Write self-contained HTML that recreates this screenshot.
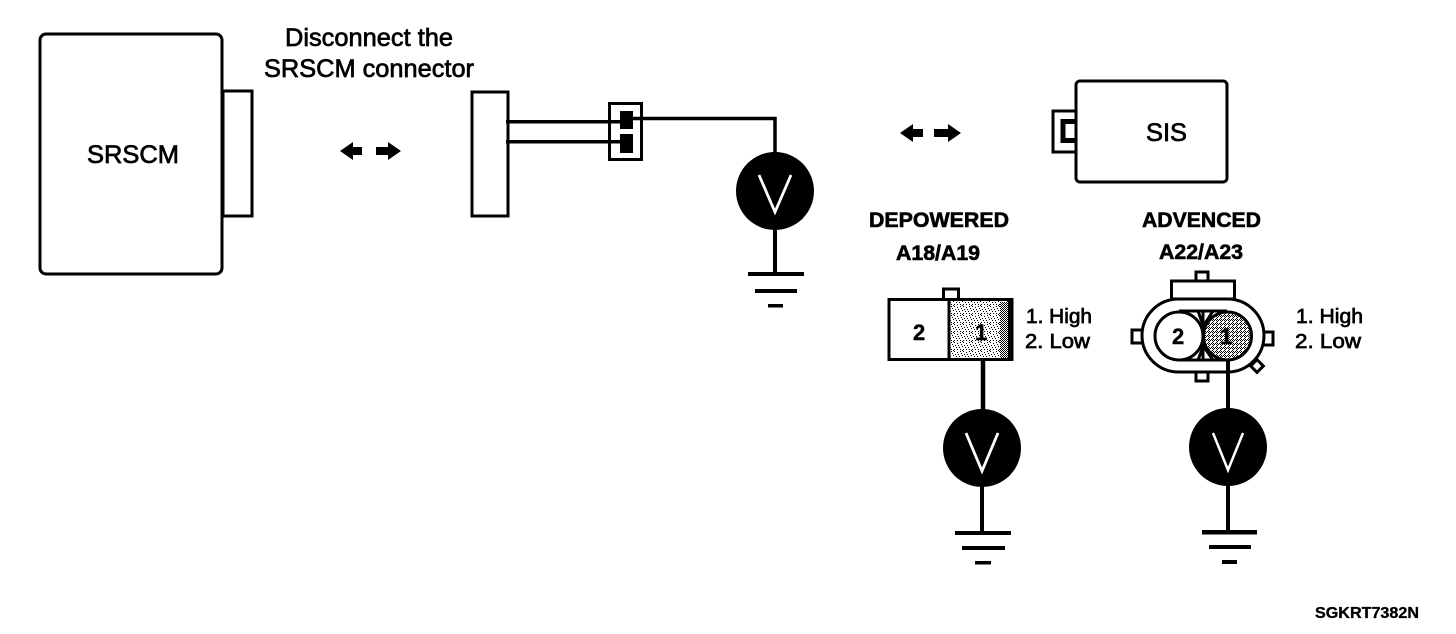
<!DOCTYPE html>
<html>
<head>
<meta charset="utf-8">
<style>
html,body{margin:0;padding:0;background:#fff;width:1456px;height:634px;overflow:hidden}
svg{display:block}
text{font-family:"Liberation Sans",sans-serif;fill:#000}
.n{font-size:25px;stroke:#000;stroke-width:.7px}
.h{font-size:21px;font-weight:bold;stroke:#000;stroke-width:.6px}
.l{font-size:20px;stroke:#000;stroke-width:.7px}
.d{font-size:22px;font-weight:bold;stroke:#000;stroke-width:.4px}
</style>
</head>
<body>
<svg width="1456" height="634" viewBox="0 0 1456 634" xmlns="http://www.w3.org/2000/svg">
<defs>
<pattern id="st" width="9" height="9" patternUnits="userSpaceOnUse">
<rect width="9" height="9" fill="#fff"/>
<path fill="#000" d="M0 0h1v1H0zM3 1h1v1H3zM6 0h1v1H6zM1 3h1v1H1zM4 3h1v1H4zM7 2h1v1H7zM2 5h1v1H2zM5 5h1v1H5zM8 4h1v1H8zM0 7h1v1H0zM3 7h1v1H3zM6 7h1v1H6zM8 8h1v1H8z"/>
</pattern>
<pattern id="dn" width="2" height="2" patternUnits="userSpaceOnUse">
<rect width="2" height="2" fill="#fff"/>
<rect width="1" height="1" fill="#000"/>
<rect x="1" y="1" width="1" height="1" fill="#000"/>
</pattern>
<pattern id="st2" width="4" height="4" patternUnits="userSpaceOnUse">
<rect width="4" height="4" fill="#fff"/>
<path fill="#000" d="M0 0h1v1H0zM2 0h1v1H2zM1 1h1v1H1zM0 2h1v1H0zM3 3h1v1H3zM1 3h1v1H1z"/>
</pattern>
</defs>

<g fill="none" stroke="#000" stroke-width="3">
<!-- SRSCM -->
<rect x="223" y="91" width="29" height="125" fill="#fff"/>
<rect x="40" y="34" width="182" height="240" rx="6" fill="#fff"/>
<!-- center connector -->
<rect x="472" y="92" width="36" height="124" fill="#fff"/>
<rect x="609.500" y="103.500" width="32" height="56" fill="#fff"/>
<!-- SIS -->
<rect x="1053" y="111" width="24" height="41" fill="#fff"/>
<rect x="1076" y="81" width="151" height="101" rx="4" fill="#fff"/>
</g>
<path d="M1075 121.500H1063V140.500H1075" fill="none" stroke="#000" stroke-width="5"/>

<!-- center wiring -->
<rect x="620" y="111" width="13" height="18" fill="#000"/>
<rect x="620" y="134" width="13" height="19" fill="#000"/>
<rect x="506" y="120" width="116" height="3.500" fill="#000"/>
<rect x="506" y="140" width="116" height="3.500" fill="#000"/>
<path d="M630 118.500H775V160" fill="none" stroke="#000" stroke-width="3.500"/>

<!-- Left meter 1 -->
<line x1="775" y1="225" x2="775" y2="274" stroke="#000" stroke-width="4"/>
<circle cx="775" cy="191" r="39" fill="#000"/>
<path d="M759 175L775 212L791 175" fill="none" stroke="#fff" stroke-width="2.800"/>
<rect x="748" y="272" width="56" height="4" fill="#000"/>
<rect x="755" y="289" width="42" height="4" fill="#000"/>
<rect x="768" y="304" width="15" height="3.500" fill="#000"/>

<!-- Depowered connector -->
<rect x="943.500" y="289" width="15" height="11" fill="#fff" stroke="#000" stroke-width="3"/>
<rect x="889" y="299.500" width="60" height="60" fill="#fff" stroke="#000" stroke-width="3"/>
<rect x="949" y="299.500" width="63" height="60" fill="url(#st)" stroke="#000" stroke-width="3"/>
<rect x="1000" y="302" width="8" height="56" fill="url(#dn)"/>
<rect x="1008" y="300" width="4.500" height="59" fill="#000"/>
<line x1="983" y1="360" x2="983" y2="412" stroke="#000" stroke-width="4.500"/>
<line x1="982" y1="480" x2="982" y2="533" stroke="#000" stroke-width="4"/>
<circle cx="982" cy="448" r="39" fill="#000"/>
<path d="M966 433L982 471L998 433" fill="none" stroke="#fff" stroke-width="2.800"/>
<rect x="955" y="531" width="56" height="4" fill="#000"/>
<rect x="962" y="546" width="43" height="4" fill="#000"/>
<rect x="975" y="561" width="16" height="3.500" fill="#000"/>

<!-- Advanced connector -->
<g stroke="#000" stroke-width="3" fill="#fff">
<rect x="1196" y="272" width="12" height="10"/>
<rect x="1171.500" y="281" width="63" height="18"/>
<rect x="1132" y="330" width="11" height="13"/>
<rect x="1263" y="332" width="10" height="13"/>
<rect x="1196" y="370" width="12" height="11"/>
<rect x="1252.500" y="361.500" width="9" height="9" transform="rotate(45 1257 366)"/>
<rect x="1142" y="299" width="122" height="73" rx="36.500"/>
<path d="M1179 311H1227M1179 360H1227M1203 311V360M1198 311L1203 325M1213 311L1204 325M1198 360L1203 347M1213 360L1204 347" fill="none"/>
<circle cx="1179" cy="336" r="24"/>
<circle cx="1227.500" cy="336" r="24" fill="url(#st2)"/>
</g>
<line x1="1228" y1="359" x2="1228" y2="410" stroke="#000" stroke-width="4"/>
<line x1="1228" y1="480" x2="1228" y2="532" stroke="#000" stroke-width="4"/>
<circle cx="1228" cy="447" r="39" fill="#000"/>
<path d="M1213 433L1228 470L1243 433" fill="none" stroke="#fff" stroke-width="2.500"/>
<rect x="1202" y="530" width="55" height="4.500" fill="#000"/>
<rect x="1209" y="545" width="42" height="4" fill="#000"/>
<rect x="1222" y="560" width="15" height="4" fill="#000"/>

<!-- arrows -->
<g fill="#000">
<path d="M340 151L353 142V147H362V155H353V160Z"/>
<path d="M401 151L388 142V147H376V155H388V160Z"/>
<path d="M900 133L913 124V129H923V137H913V142Z"/>
<path d="M961 133L948 124V129H934V137H948V142Z"/>
</g>

<!-- text -->
<text class="n" x="285" y="46" textLength="168" lengthAdjust="spacingAndGlyphs">Disconnect the</text>
<text class="n" x="264" y="77" textLength="210" lengthAdjust="spacingAndGlyphs">SRSCM connector</text>
<text class="n" x="87" y="163" textLength="92" lengthAdjust="spacingAndGlyphs">SRSCM</text>
<text class="n" x="1146" y="141" textLength="41" lengthAdjust="spacingAndGlyphs">SIS</text>
<text class="h" x="869" y="227" textLength="140" lengthAdjust="spacingAndGlyphs">DEPOWERED</text>
<text class="h" x="896" y="260" textLength="84" lengthAdjust="spacingAndGlyphs">A18/A19</text>
<text class="h" x="1142" y="227" textLength="119" lengthAdjust="spacingAndGlyphs">ADVENCED</text>
<text class="h" x="1159" y="259" textLength="84" lengthAdjust="spacingAndGlyphs">A22/A23</text>
<text class="d" x="913" y="340">2</text>
<text class="d" x="975" y="340">1</text>
<text class="d" x="1172" y="344">2</text>
<text class="d" x="1220" y="344">1</text>
<text class="l" x="1026" y="323" textLength="66" lengthAdjust="spacingAndGlyphs">1. High</text>
<text class="l" x="1025" y="348" textLength="65" lengthAdjust="spacingAndGlyphs">2. Low</text>
<text class="l" x="1296" y="323" textLength="67" lengthAdjust="spacingAndGlyphs">1. High</text>
<text class="l" x="1295" y="348" textLength="66" lengthAdjust="spacingAndGlyphs">2. Low</text>
<text x="1315" y="618" font-size="16" font-weight="bold" textLength="104" lengthAdjust="spacingAndGlyphs" stroke="#000" stroke-width=".3">SGKRT7382N</text>
</svg>
</body>
</html>
